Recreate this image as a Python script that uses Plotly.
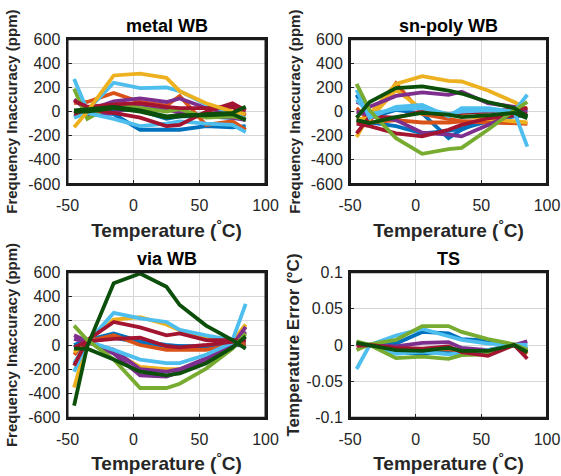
import plotly.graph_objects as go

# ---------------- data ----------------
TEMPS = [-45, -35, -15, 5, 25, 35, 55, 75, 85]

X_TICKS = [-50, 0, 50, 100]
X_TICK_TEXT = ["-50", "0", "50", "100"]
FREQ_TICKS = [-600, -400, -200, 0, 200, 400, 600]
FREQ_TICK_TEXT = ["-600", "-400", "-200", "0", "200", "400", "600"]
TS_TICKS = [-0.1, -0.05, 0, 0.05, 0.1]
TS_TICK_TEXT = ["-0.1", "-0.05", "0", "0.05", "0.1"]

PANEL_TITLES = ["metal WB", "sn-poly WB", "via WB", "TS"]

# (colour name, values in ppm) for each chip, metal WB
METAL_WB = [
    ("blue",      [-40, 0, -20, -150, -150, -150, -120, -130, -120]),
    ("blue",      [0, 10, 20, 10, -60, -40, -40, -50, -60]),
    ("orange",    [70, 80, 155, 80, 50, 130, -110, -80, -150]),
    ("purple",    [100, 10, 85, 110, 80, 110, 30, -20, 0]),
    ("purple",    [-20, -30, -10, 60, 20, -10, -30, -50, -70]),
    ("green",     [190, -60, 60, 30, 0, 20, -50, -40, -60]),
    ("lightblue", [270, 10, 240, 195, 200, 170, 60, -10, -30]),
    ("lightblue", [-50, -10, -60, -120, -100, -80, -100, -110, -170]),
    ("darkred",   [-20, 20, -10, -50, -120, -110, 0, 70, 10]),
    ("darkred",   [90, 40, 60, 70, 40, 30, 30, 40, -30]),
    ("yellow",    [-130, 0, 300, 315, 280, 170, 70, 0, -20]),
    ("darkgreen", [10, 20, 40, 10, -40, -30, -30, -20, -70]),
    ("darkgreen", [0, 0, 30, 0, -50, -40, -20, -10, 40]),
]

# sn-poly WB
SNPOLY_WB = [
    ("blue",      [140, -50, 15, -15, -220, -150, -55, 0, 15]),
    ("blue",      [-60, -90, -120, -180, -160, -140, -80, -40, -30]),
    ("orange",    [-80, -90, -70, -90, -90, -80, -90, -100, -100]),
    ("orange",    [30, -80, 235, -20, -60, -80, -80, -90, -100]),
    ("yellow",    [-60, -60, 180, 20, -20, -30, -60, -80, -90]),
    ("yellow",    [-210, -20, 230, 295, 255, 250, 175, 80, 20]),
    ("purple",    [80, 40, 130, 160, 140, 165, 70, 40, 10]),
    ("purple",    [0, -30, -70, -175, -190, -205, -110, -15, 0]),
    ("darkred",   [-180, -40, -50, 0, -30, -10, 0, 20, 30]),
    ("darkred",   [-100, -120, -180, -205, -150, -110, -55, -30, -20]),
    ("lightblue", [180, -50, 40, 55, -40, 30, 30, 0, 140]),
    ("lightblue", [100, -20, 20, 30, -20, 0, 10, 0, -290]),
    ("green",     [230, 10, -220, -350, -310, -300, -150, 10, 80]),
    ("darkgreen", [-70, -95, -45, -10, -25, -45, -30, -10, -55]),
    ("darkgreen", [-50, 80, 195, 210, 175, 150, 80, 30, -40]),
]

# via WB
VIA_WB = [
    ("blue",      [0, 40, 95, 30, 0, -10, -10, 0, 0]),
    ("blue",      [-20, 30, 60, 20, -10, -10, -20, 10, 10]),
    ("orange",    [-80, 30, 80, 0, -40, -40, -40, 0, 10]),
    ("yellow",    [-350, 30, 210, 230, 170, 120, 70, 30, 170]),
    ("yellow",    [-60, 30, -60, -180, -200, -200, -120, 20, 150]),
    ("purple",    [80, 30, -70, -250, -260, -220, -125, 0, 150]),
    ("purple",    [50, 20, -40, -200, -220, -200, -110, 10, 110]),
    ("lightblue", [-150, 30, -40, -120, -150, -150, -80, 20, 60]),
    ("lightblue", [-220, 20, 265, 220, 190, 125, 80, 40, 340]),
    ("darkred",   [-20, 30, 50, 60, -10, -20, 0, 30, 40]),
    ("darkred",   [-170, 40, 190, 145, 80, 95, 40, 40, 40]),
    ("green",     [160, 40, -120, -355, -355, -320, -195, -30, 95]),
    ("darkgreen", [-30, -30, -120, -220, -250, -235, -150, -20, 70]),
    ("darkgreen", [-500, -10, 510, 590, 480, 330, 160, 40, -30]),
]

# TS, temperature error in degC
TS_ERR = [
    ("blue",      [0.004, 0, 0.002, 0.018, 0.016, 0.008, 0.006, 0, -0.005]),
    ("blue",      [0.002, 0, -0.010, -0.012, -0.008, -0.012, -0.010, 0, -0.010]),
    ("orange",    [0.002, 0, -0.004, -0.006, -0.006, -0.008, -0.010, 0, -0.012]),
    ("yellow",    [0.003, 0, -0.005, -0.008, -0.004, -0.008, -0.010, 0, -0.006]),
    ("purple",    [0.001, 0, -0.002, 0.003, 0.004, -0.004, -0.007, 0, 0.005]),
    ("lightblue", [0.002, 0, 0.013, 0.022, 0.012, 0.007, 0.002, 0, 0]),
    ("lightblue", [-0.033, 0, -0.012, -0.009, -0.013, -0.011, -0.007, 0, -0.002]),
    ("green",     [-0.007, 0.001, 0.007, 0.026, 0.026, 0.018, 0.008, 0.001, -0.007]),
    ("green",     [0.005, 0, -0.018, -0.016, -0.019, -0.014, -0.013, 0, -0.008]),
    ("darkred",   [-0.001, 0, -0.004, -0.005, -0.002, -0.010, -0.015, 0, -0.019]),
    ("darkgreen", [0.003, 0, -0.007, -0.008, -0.004, -0.008, -0.008, 0, -0.010]),
]

COLORS = {
    "blue": "#0072BD", "orange": "#D95319", "yellow": "#EDB120",
    "purple": "#7E2F8E", "green": "#77AC30", "lightblue": "#4DBEEE",
    "darkred": "#A2142F", "darkgreen": "#0B4F0B",
}

# ---------------- figure ----------------
FONT = "Liberation Sans, Arial, Helvetica, sans-serif"
INK = "#262626"

fig = go.Figure()
panels = [(METAL_WB, "x", "y"), (SNPOLY_WB, "x2", "y2"),
          (VIA_WB, "x3", "y3"), (TS_ERR, "x4", "y4")]
for series, xa, ya in panels:
    for cname, vals in series:
        fig.add_trace(go.Scatter(
            x=TEMPS, y=vals, mode="lines", xaxis=xa, yaxis=ya,
            line=dict(color=COLORS[cname], width=3.8),
            showlegend=False, hoverinfo="skip"))

LEFT_X = [67.5 / 561, 265.5 / 561]
RIGHT_X = [350 / 561, 547 / 561]
TOP_Y = [1 - 184 / 476, 1 - 39.3 / 476]
BOT_Y = [1 - 417.7 / 476, 1 - 272.3 / 476]

common = dict(
    showline=True, linecolor="#1a1a1a", linewidth=2, mirror=True,
    ticks="inside", ticklen=4, tickwidth=1.2, tickcolor=INK,
    showgrid=True, gridcolor="#d6d6d6", gridwidth=1.3, zeroline=False,
    automargin=False,
    tickfont=dict(family=FONT, size=16, color=INK),
)

def xax(domain, anchor):
    return dict(common, domain=domain, anchor=anchor, range=[-50, 100],
                tickmode="array", tickvals=X_TICKS, ticktext=X_TICK_TEXT,
                ticklabelstandoff=6,
                title=dict(text="Temperature (<sup>°</sup>C)", standoff=10,
                           font=dict(family=FONT, size=19, color=INK, weight="bold")))

def yax(domain, anchor, ticks, texts, rng, label, size, standoff):
    return dict(common, domain=domain, anchor=anchor, range=rng,
                tickmode="array", tickvals=ticks, ticktext=texts,
                ticklabelstandoff=2,
                title=dict(text=label, standoff=standoff,
                           font=dict(family=FONT, size=size, color=INK, weight="bold")))

fig.update_layout(
    width=561, height=476,
    margin=dict(l=0, r=0, t=0, b=0, autoexpand=False),
    paper_bgcolor="white", plot_bgcolor="white",
    font=dict(family=FONT, color=INK),
    xaxis=xax(LEFT_X, "y"),
    yaxis=yax(TOP_Y, "x", FREQ_TICKS, FREQ_TICK_TEXT, [-600, 600],
              "Frequency Inaccuracy (ppm)", 15, 7),
    xaxis2=xax(RIGHT_X, "y2"),
    yaxis2=yax(TOP_Y, "x2", FREQ_TICKS, FREQ_TICK_TEXT, [-600, 600],
               "Frequency Inaccuracy (ppm)", 15, 7),
    xaxis3=xax(LEFT_X, "y3"),
    yaxis3=yax(BOT_Y, "x3", FREQ_TICKS, FREQ_TICK_TEXT, [-600, 600],
               "Frequency Inaccuracy (ppm)", 15, 7),
    xaxis4=xax(RIGHT_X, "y4"),
    yaxis4=yax(BOT_Y, "x4", TS_TICKS, TS_TICK_TEXT, [-0.1, 0.1],
               "Temperature Error (°C)", 17, 2),
)

# axes boxes (drawn relative to each subplot's own domain)
for xr, yr in [("x domain", "y domain"), ("x2 domain", "y2 domain"),
               ("x3 domain", "y3 domain"), ("x4 domain", "y4 domain")]:
    fig.add_shape(type="rect", xref=xr, yref=yr, x0=0, x1=1, y0=0, y1=1,
                  line=dict(color="#1a1a1a", width=2), layer="above")

title_pos = [((LEFT_X[0] + LEFT_X[1]) / 2, 1 - 26 / 476),
             ((RIGHT_X[0] + RIGHT_X[1]) / 2, 1 - 26 / 476),
             ((LEFT_X[0] + LEFT_X[1]) / 2, 1 - 259 / 476),
             ((RIGHT_X[0] + RIGHT_X[1]) / 2, 1 - 259 / 476)]
for text, (px, py) in zip(PANEL_TITLES, title_pos):
    fig.add_annotation(text=text, x=px, y=py, xref="paper", yref="paper",
                       xanchor="center", yanchor="middle", showarrow=False,
                       font=dict(family=FONT, size=18, color="black", weight="bold"))

fig.write_html("out.html", config={"displayModeBar": False},
               post_script="document.body.style.margin='0px';")
